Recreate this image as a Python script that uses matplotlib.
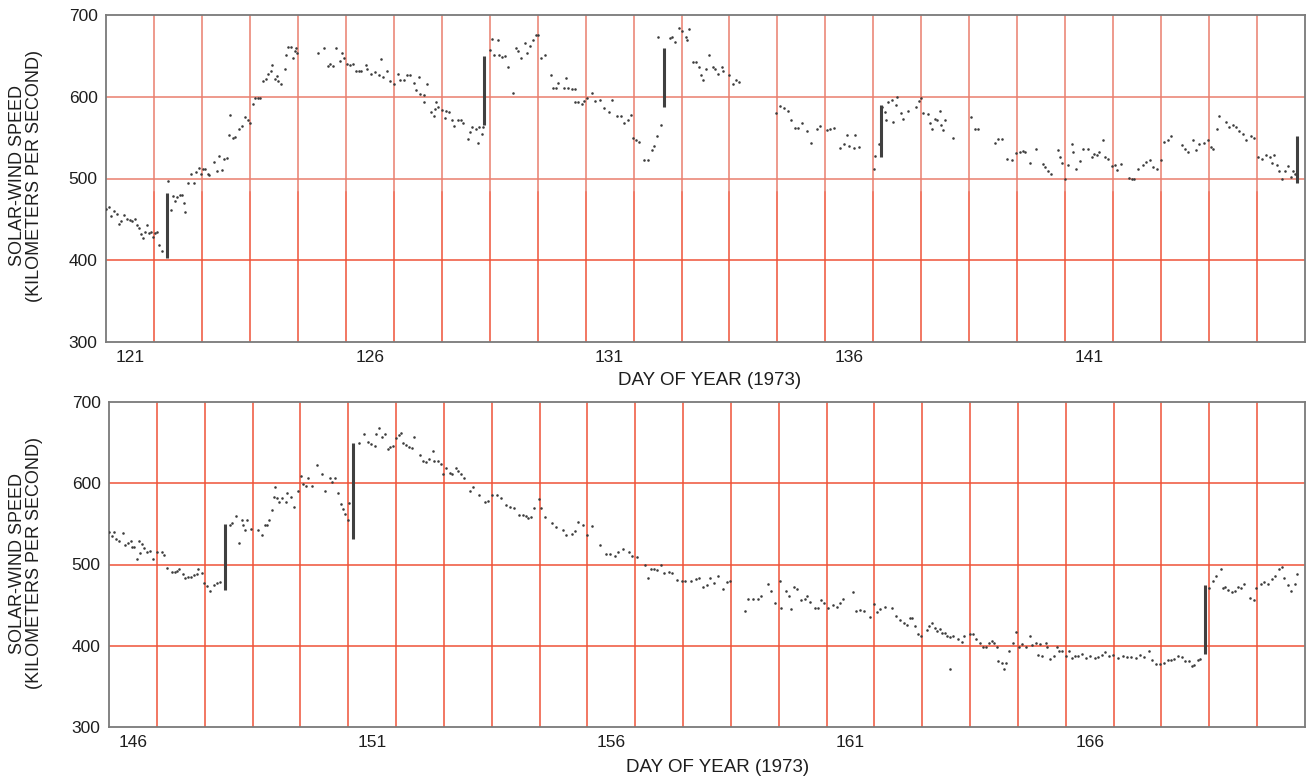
import numpy as np
import matplotlib
matplotlib.use("Agg")
import matplotlib.pyplot as plt

plt.rcParams['font.family'] = ['Liberation Sans', 'DejaVu Sans']

# ---- hourly-ish solar-wind speed samples (day of year, km/s) ----
top_obs = [
    (121.01, 463), (121.06, 465), (121.10, 454), (121.16, 460), (121.22, 456), (121.27, 444),
    (121.31, 448), (121.38, 455), (121.44, 450), (121.50, 449), (121.55, 448), (121.60, 450),
    (121.65, 443), (121.69, 439), (121.73, 432), (121.78, 427), (121.81, 434), (121.86, 443),
    (121.90, 433), (121.93, 434), (121.99, 429), (122.03, 433), (122.07, 434), (122.10, 419),
    (122.17, 411), (122.29, 497), (122.35, 462), (122.40, 479), (122.44, 473), (122.49, 477),
    (122.55, 480), (122.59, 480), (122.65, 459), (122.62, 470), (122.72, 494), (122.77, 505),
    (122.83, 495), (122.87, 508), (122.93, 513), (122.98, 506), (123.02, 512), (123.07, 512),
    (123.12, 506), (123.15, 504), (123.26, 520), (123.31, 509), (123.36, 528), (123.41, 510),
    (123.47, 524), (123.52, 525), (123.57, 553), (123.59, 578), (123.64, 550), (123.69, 551),
    (123.78, 560), (123.83, 564), (123.90, 575), (123.96, 572), (124.01, 568), (124.06, 591),
    (124.11, 599), (124.17, 599), (124.22, 599), (124.27, 619), (124.33, 622), (124.38, 628),
    (124.43, 632), (124.47, 639), (124.53, 622), (124.57, 625), (124.59, 619), (124.64, 615),
    (124.73, 634), (124.75, 651), (124.80, 661), (124.85, 661), (124.90, 647), (124.95, 656),
    (124.97, 660), (124.99, 653), (125.43, 654), (125.55, 660), (125.62, 638), (125.67, 640),
    (125.74, 638), (125.80, 660), (125.87, 644), (125.92, 653), (125.97, 648), (126.02, 640),
    (126.08, 639), (126.14, 640), (126.21, 632), (126.27, 632), (126.32, 631), (126.42, 639),
    (126.44, 634), (126.52, 628), (126.60, 630), (126.70, 626), (126.74, 646), (126.77, 624),
    (126.86, 632), (126.92, 619), (127.00, 615), (127.09, 628), (127.14, 621), (127.21, 620),
    (127.28, 626), (127.34, 626), (127.42, 617), (127.47, 608), (127.52, 624), (127.55, 603),
    (127.63, 602), (127.64, 593), (127.70, 615), (127.77, 581), (127.83, 577), (127.86, 585),
    (127.89, 594), (127.93, 588), (128.01, 584), (128.09, 582), (128.06, 574), (128.15, 581),
    (128.22, 571), (128.26, 564), (128.33, 572), (128.40, 572), (128.45, 568), (128.55, 548),
    (128.60, 557), (128.64, 563), (128.71, 560), (128.75, 544), (128.78, 563), (128.83, 554),
    (128.87, 563), (129.00, 657), (129.04, 671), (129.10, 651), (129.17, 669), (129.20, 651),
    (129.25, 649), (129.31, 650), (129.38, 637), (129.49, 605), (129.55, 660), (129.59, 656),
    (129.66, 647), (129.73, 666), (129.78, 653), (129.84, 662), (129.91, 670), (129.96, 675),
    (130.01, 676), (130.08, 648), (130.15, 651), (130.28, 626), (130.33, 611), (130.38, 611),
    (130.43, 617), (130.54, 611), (130.59, 623), (130.64, 611), (130.71, 609), (130.78, 609),
    (130.77, 593), (130.85, 593), (130.92, 591), (130.97, 595), (131.03, 599), (131.13, 604),
    (131.20, 595), (131.31, 596), (131.39, 586), (131.48, 581), (131.55, 596), (131.66, 576),
    (131.73, 576), (131.81, 568), (131.88, 572), (131.94, 578), (131.99, 549), (132.06, 547),
    (132.11, 545), (132.22, 523), (132.31, 523), (132.39, 535), (132.43, 540), (132.48, 552),
    (132.51, 673), (132.57, 565), (132.76, 672), (132.81, 673), (132.86, 667), (132.95, 684),
    (133.02, 681), (133.09, 673), (133.12, 669), (133.16, 683), (133.23, 642), (133.30, 642),
    (133.36, 637), (133.41, 626), (133.44, 621), (133.51, 634), (133.57, 651), (133.65, 636),
    (133.70, 634), (133.76, 628), (133.84, 636), (133.87, 632), (133.98, 626), (134.07, 615),
    (134.14, 621), (134.20, 618), (134.98, 580), (135.05, 589), (135.14, 586), (135.21, 582),
    (135.28, 572), (135.36, 562), (135.43, 562), (135.52, 568), (135.61, 558), (135.70, 544),
    (135.82, 560), (135.89, 564), (136.03, 559), (136.10, 560), (136.17, 562), (136.31, 537),
    (136.38, 542), (136.45, 553), (136.50, 540), (136.59, 537), (136.62, 553), (136.71, 538),
    (137.01, 512), (137.03, 528), (137.11, 542), (137.17, 588), (137.24, 581), (137.26, 572),
    (137.31, 593), (137.38, 596), (137.41, 569), (137.47, 590), (137.50, 600), (137.57, 580),
    (137.62, 573), (137.72, 582), (137.88, 587), (137.95, 595), (138.00, 599), (138.03, 580),
    (138.14, 579), (138.19, 568), (138.23, 561), (138.28, 573), (138.33, 571), (138.38, 582),
    (138.42, 566), (138.45, 559), (138.50, 572), (138.66, 550), (139.04, 575), (139.11, 561),
    (139.18, 560), (139.53, 543), (139.60, 548), (139.69, 548), (139.79, 524), (139.90, 523),
    (139.98, 531), (140.05, 533), (140.12, 534), (140.17, 533), (140.26, 519), (140.40, 536),
    (140.53, 518), (140.57, 514), (140.64, 509), (140.71, 506), (140.85, 535), (140.90, 526),
    (140.94, 519), (140.99, 499), (141.06, 516), (141.14, 542), (141.16, 533), (141.23, 512),
    (141.30, 522), (141.37, 536), (141.48, 536), (141.55, 526), (141.60, 530), (141.66, 529),
    (141.70, 532), (141.79, 547), (141.84, 526), (141.89, 524), (141.98, 515), (142.03, 516),
    (142.08, 510), (142.17, 518), (142.33, 501), (142.40, 500), (142.44, 500), (142.51, 512),
    (142.62, 516), (142.69, 520), (142.76, 523), (142.84, 514), (142.91, 512), (143.00, 523),
    (143.07, 545), (143.14, 547), (143.21, 552), (143.44, 541), (143.49, 536), (143.56, 532),
    (143.66, 547), (143.72, 535), (143.80, 542), (143.90, 543), (143.97, 547), (144.04, 539),
    (144.09, 536), (144.16, 560), (144.20, 576), (144.35, 569), (144.42, 563), (144.49, 566),
    (144.56, 563), (144.63, 558), (144.70, 554), (144.77, 547), (144.87, 552), (144.94, 550),
    (145.03, 526), (145.11, 524), (145.19, 529), (145.26, 526), (145.31, 519), (145.36, 529),
    (145.41, 516), (145.45, 509), (145.52, 499), (145.59, 509), (145.65, 515), (145.70, 502),
    (145.75, 509), (145.79, 505),
]

bottom_obs = [
    (146.00, 540), (146.06, 535), (146.11, 540), (146.14, 531), (146.20, 529), (146.30, 539),
    (146.34, 524), (146.39, 527), (146.45, 529), (146.49, 522), (146.53, 521), (146.58, 507),
    (146.62, 529), (146.65, 514), (146.69, 525), (146.74, 520), (146.79, 516), (146.86, 517),
    (146.93, 507), (147.00, 516), (147.10, 516), (147.16, 512), (147.21, 496), (147.31, 491),
    (147.37, 491), (147.42, 492), (147.47, 494), (147.54, 488), (147.59, 484), (147.65, 485),
    (147.72, 485), (147.77, 487), (147.84, 488), (147.87, 495), (147.94, 489), (147.98, 477),
    (148.05, 473), (148.12, 468), (148.19, 475), (148.26, 477), (148.33, 479), (148.52, 549),
    (148.57, 551), (148.66, 560), (148.71, 527), (148.77, 555), (148.80, 549), (148.85, 543),
    (148.89, 555), (148.96, 544), (149.12, 543), (149.20, 536), (149.26, 549), (149.31, 549),
    (149.34, 555), (149.40, 567), (149.45, 583), (149.48, 595), (149.52, 582), (149.55, 577),
    (149.62, 582), (149.69, 577), (149.73, 588), (149.80, 583), (149.87, 571), (149.96, 591),
    (150.01, 609), (150.06, 599), (150.11, 597), (150.17, 607), (150.25, 597), (150.34, 623),
    (150.46, 612), (150.52, 590), (150.62, 606), (150.66, 601), (150.72, 606), (150.78, 588),
    (150.85, 574), (150.90, 568), (150.94, 562), (150.99, 555), (151.01, 576), (151.22, 650),
    (151.32, 661), (151.41, 651), (151.48, 648), (151.55, 646), (151.59, 661), (151.65, 668),
    (151.71, 657), (151.76, 661), (151.83, 642), (151.87, 645), (151.93, 646), (152.00, 656),
    (152.06, 659), (152.10, 662), (152.15, 649), (152.21, 647), (152.28, 645), (152.33, 644),
    (152.38, 657), (152.50, 635), (152.57, 628), (152.63, 626), (152.69, 630), (152.77, 640),
    (152.80, 628), (152.87, 627), (152.94, 624), (152.99, 612), (153.04, 619), (153.12, 613),
    (153.17, 611), (153.26, 619), (153.29, 615), (153.36, 612), (153.43, 606), (153.54, 590),
    (153.61, 595), (153.73, 586), (153.85, 577), (153.92, 578), (154.01, 586), (154.10, 586),
    (154.20, 582), (154.30, 573), (154.38, 571), (154.47, 570), (154.58, 561), (154.65, 561),
    (154.71, 560), (154.75, 557), (154.82, 559), (154.89, 569), (154.99, 581), (155.03, 569),
    (155.12, 559), (155.27, 551), (155.35, 546), (155.49, 542), (155.55, 536), (155.67, 538),
    (155.74, 541), (155.81, 552), (155.91, 549), (155.99, 536), (156.09, 548), (156.26, 524),
    (156.39, 513), (156.47, 513), (156.58, 511), (156.65, 515), (156.74, 519), (156.86, 515),
    (156.93, 511), (157.04, 509), (157.21, 499), (157.26, 484), (157.32, 495), (157.39, 495),
    (157.46, 493), (157.53, 500), (157.60, 490), (157.70, 491), (157.77, 490), (157.88, 481),
    (157.98, 480), (158.05, 480), (158.16, 480), (158.26, 482), (158.33, 484), (158.42, 472),
    (158.49, 475), (158.56, 484), (158.65, 477), (158.73, 486), (158.84, 470), (158.91, 478),
    (158.99, 480), (159.29, 443), (159.35, 457), (159.46, 457), (159.56, 457), (159.63, 461),
    (159.77, 476), (159.84, 468), (159.93, 453), (160.02, 480), (160.04, 446), (160.16, 468),
    (160.21, 461), (160.25, 445), (160.32, 472), (160.39, 470), (160.46, 456), (160.54, 457),
    (160.60, 461), (160.65, 454), (160.75, 446), (160.82, 446), (160.88, 456), (160.95, 453),
    (161.02, 446), (161.14, 450), (161.21, 448), (161.28, 453), (161.35, 458), (161.56, 466),
    (161.61, 443), (161.70, 444), (161.79, 443), (161.91, 436), (162.00, 451), (162.05, 441),
    (162.12, 445), (162.23, 448), (162.37, 447), (162.45, 437), (162.54, 432), (162.61, 428),
    (162.68, 426), (162.74, 434), (162.79, 434), (162.85, 424), (162.92, 414), (162.97, 412),
    (163.09, 420), (163.14, 424), (163.21, 428), (163.26, 422), (163.31, 418), (163.37, 421),
    (163.42, 416), (163.47, 416), (163.52, 412), (163.57, 411), (163.58, 372), (163.64, 412),
    (163.75, 408), (163.82, 405), (163.88, 412), (163.99, 415), (164.06, 414), (164.13, 408),
    (164.20, 403), (164.27, 399), (164.33, 399), (164.40, 403), (164.45, 406), (164.50, 403),
    (164.57, 399), (164.59, 381), (164.66, 379), (164.71, 371), (164.75, 379), (164.82, 394),
    (164.89, 404), (164.96, 417), (165.02, 399), (165.09, 402), (165.16, 399), (165.25, 412),
    (165.30, 401), (165.37, 403), (165.41, 389), (165.46, 402), (165.51, 387), (165.58, 403),
    (165.61, 398), (165.68, 384), (165.75, 387), (165.82, 399), (165.85, 393), (165.92, 394),
    (166.01, 388), (166.06, 394), (166.13, 385), (166.20, 387), (166.25, 388), (166.34, 390),
    (166.43, 385), (166.51, 387), (166.61, 385), (166.68, 386), (166.75, 389), (166.82, 392),
    (166.91, 387), (166.99, 389), (167.10, 385), (167.20, 387), (167.27, 386), (167.37, 386),
    (167.47, 385), (167.56, 389), (167.63, 386), (167.74, 394), (167.81, 382), (167.88, 378),
    (167.96, 377), (168.05, 379), (168.13, 382), (168.20, 382), (168.27, 384), (168.34, 387),
    (168.43, 386), (168.50, 381), (168.57, 381), (168.64, 375), (168.69, 376), (168.76, 382),
    (168.81, 384), (169.00, 471), (169.08, 480), (169.14, 486), (169.24, 494), (169.29, 471),
    (169.33, 472), (169.40, 469), (169.47, 466), (169.54, 467), (169.59, 472), (169.66, 471),
    (169.72, 476), (169.86, 459), (169.93, 456), (169.98, 471), (170.07, 476), (170.14, 479),
    (170.23, 476), (170.31, 482), (170.38, 486), (170.45, 494), (170.52, 497), (170.57, 484),
    (170.64, 475), (170.71, 467), (170.79, 476), (170.84, 488),
]

# ---- abrupt velocity jumps: (day, low speed, high speed) ----
top_jumps = [(122.28, 403, 482), (128.89, 566, 650), (132.64, 588, 660),
             (137.15, 526, 590), (145.83, 494, 552)]
bottom_jumps = [(148.43, 469, 550), (151.09, 532, 649), (168.92, 390, 475)]

# ---- axis ranges and labels ----
top_days = (121, 146)
bottom_days = (146, 171)
speed_range = (300, 700)
speed_ticks = [300, 400, 500, 600, 700]
speed_grid = [400, 500, 600]
label_step = 5
y_label = "SOLAR-WIND SPEED\n(KILOMETERS PER SECOND)"
x_label = "DAY OF YEAR (1973)"

GRID_RED = "#ef5238"
GRID_RED_PALE = "#ea7e6e"
SPINE = "#7a7a7a"
DOT = "#3c3c3c"
JUMP = "#404040"
TEXT = "#1e1e1e"

W, H = 1314, 780
fig = plt.figure(figsize=(W / 100, H / 100), dpi=100)
fig.patch.set_facecolor("white")


def px_axes(l, t, r, b):
    return fig.add_axes([l / W, 1 - b / H, (r - l) / W, (b - t) / H])


def draw_panel(ax, days, obs, jumps, pale_above=None):
    d0, d1 = days
    ax.set_xlim(d0, d1)
    ax.set_ylim(*speed_range)
    # day grid (red), with an optional paler upper part
    for d in range(d0 + 1, d1):
        if pale_above is None:
            ax.axvline(d, color=GRID_RED, lw=1.1, zorder=1)
        else:
            frac = (pale_above - speed_range[0]) / (speed_range[1] - speed_range[0])
            ax.axvline(d, ymin=0, ymax=frac, color=GRID_RED, lw=1.1, zorder=1)
            ax.axvline(d, ymin=frac, ymax=1, color=GRID_RED_PALE, lw=1.1, zorder=1)
    for s in speed_grid:
        c = GRID_RED if (pale_above is None or s < pale_above) else GRID_RED_PALE
        ax.axhline(s, color=c, lw=1.1, zorder=1)

    arr = np.array(obs, dtype=float)
    ax.scatter(arr[:, 0], arr[:, 1], s=3.4, color=DOT, linewidths=0, zorder=3)
    for d, lo, hi in jumps:
        ax.plot([d, d], [lo, hi], color=JUMP, lw=2.2, solid_capstyle="butt", zorder=4)

    labels = list(range(d0, d1 - 1, label_step))
    ax.set_xticks([v + 0.5 for v in labels])
    ax.set_xticklabels([str(v) for v in labels])
    ax.set_yticks(speed_ticks)
    ax.set_yticklabels([str(v) for v in speed_ticks])
    ax.tick_params(length=0, labelsize=12.5, colors=TEXT, pad=6)
    for sp in ax.spines.values():
        sp.set_color(SPINE)
        sp.set_linewidth(1.3)
    ax.set_facecolor("white")


ax_top = px_axes(106, 15, 1305, 342)
draw_panel(ax_top, top_days, top_obs, top_jumps, pale_above=483)

ax_bot = px_axes(109, 402, 1305, 727)
draw_panel(ax_bot, bottom_days, bottom_obs, bottom_jumps)

for yc in (176, 563):
    fig.text(26 / W, 1 - yc / H, y_label, rotation=90, ha="center", va="center",
             fontsize=13, color=TEXT, linespacing=1.05, multialignment="center")
fig.text(710 / W, 1 - 380 / H, x_label, ha="center", va="center", fontsize=13.5, color=TEXT)
fig.text(718 / W, 1 - 767 / H, x_label, ha="center", va="center", fontsize=13.5, color=TEXT)

fig.savefig("out.png", dpi=100, facecolor="white")
